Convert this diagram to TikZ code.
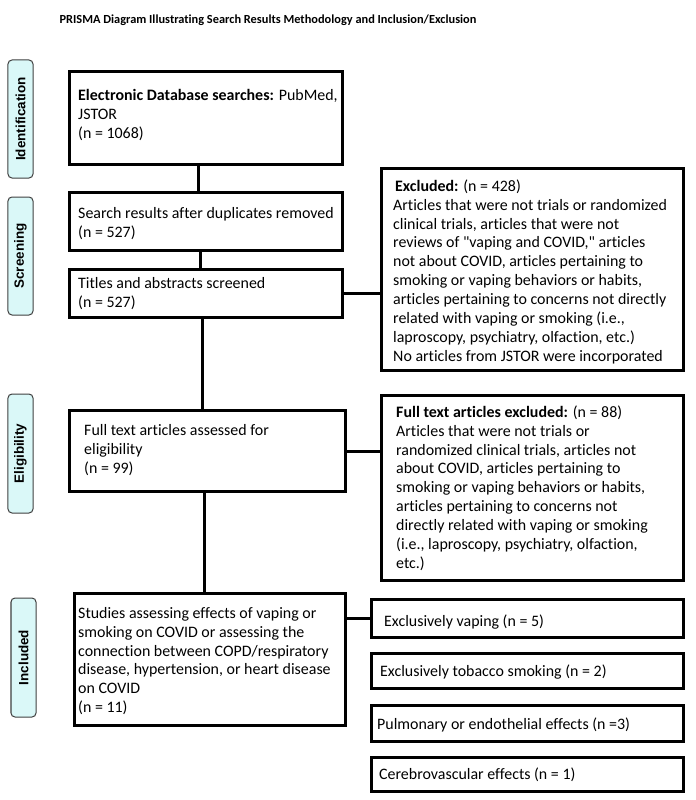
\documentclass[tikz,border=0pt]{standalone}
\usepackage{fontspec}
\setmainfont{Carlito}
\newfontfamily\calib{Carlito}[Ligatures=NoCommon]
\newfontfamily\sidefont{Liberation Sans}
\definecolor{sidefill}{RGB}{218,248,248}
\definecolor{sideline}{RGB}{64,64,64}
\begin{document}
\begin{tikzpicture}[x=1bp,y=-1bp,
  box/.style={draw, line width=3bp, rectangle, inner sep=0pt},
  side/.style={draw=sideline, fill=sidefill, rounded corners=4bp, line width=1bp, rotate=90, inner sep=0pt,
     font=\sidefont\bfseries\fontsize{13.5}{14}\selectfont, minimum height=25bp},
  txt/.style={anchor=north west, inner sep=0pt, align=left, font=\calib\fontsize{16}{19}\selectfont},
  conn/.style={line width=3bp}]
\fill[white] (0,0) rectangle (696,800);
\useasboundingbox (0,0) rectangle (696,800);

\node[font=\calib\bfseries\fontsize{12.4}{14}\selectfont] (title) at (268,20) {PRISMA Diagram Illustrating Search Results Methodology and Inclusion/Exclusion};

% sidebars
\node[side, minimum width=118bp] (sid) at (20.5,119) {Identification};
\node[side, minimum width=118bp] (sscr) at (20.5,256) {Screening};
\node[side, minimum width=119bp] (selig) at (20.5,453.5) {Eligibility};
\node[side, minimum width=119bp] (sinc) at (23.5,657.5) {Included};

% main boxes
\node[box, minimum width=273bp, minimum height=93bp] (B1) at (206,118) {};
\node[box, minimum width=273bp, minimum height=58bp] (B2) at (206,221.5) {};
\node[box, minimum width=273bp, minimum height=48bp] (B3) at (206,293.5) {};
\node[box, minimum width=276bp, minimum height=81bp] (B4) at (207.5,451) {};
\node[box, minimum width=271bp, minimum height=132bp] (B5) at (210,659.5) {};
\node[box, minimum width=302bp, minimum height=202bp] (E1) at (532.5,269.5) {};
\node[box, minimum width=302bp, minimum height=185bp] (E2) at (532.5,488) {};
\node[box, minimum width=312bp, minimum height=38bp] (R1) at (527.5,618.5) {};
\node[box, minimum width=312bp, minimum height=35bp] (R2) at (527.5,671) {};
\node[box, minimum width=312bp, minimum height=36bp] (R3) at (527.5,723.5) {};
\node[box, minimum width=312bp, minimum height=34bp] (R4) at (527.5,774.5) {};

% texts
\node[txt] (t1) at (78,87) {\rule{0pt}{13bp}\textbf{Electronic Database searches:} PubMed,\\JSTOR\\(n = 1068)};
\node[txt] (t2) at (78,205) {\rule{0pt}{13bp}Search results after duplicates removed\\(n = 527)};
\node[txt] (t3) at (78,275) {\rule{0pt}{13bp}Titles and abstracts screened\\(n = 527)};
\node[txt] (t4) at (84,422) {\rule{0pt}{13bp}Full text articles assessed for\\eligibility\\(n = 99)};
\node[txt] (t5) at (78,605) {\rule{0pt}{13bp}Studies assessing effects of vaping or\\smoking on COVID or assessing the\\connection between COPD/respiratory\\disease, hypertension, or heart disease\\on COVID\\(n = 11)};
\node[txt] (te1) at (393,178) {\rule{0pt}{13bp}\hspace{2bp}\textbf{Excluded:} (n = 428)\\Articles that were not trials or randomized\\clinical trials, articles that were not\\reviews of "vaping and COVID," articles\\not about COVID, articles pertaining to\\smoking or vaping behaviors or habits,\\articles pertaining to concerns not directly\\related with vaping or smoking (i.e.,\\laproscopy, psychiatry, olfaction, etc.)\\No articles from JSTOR were incorporated};
\node[txt] (te2) at (396,404) {\rule{0pt}{13bp}\textbf{Full text articles excluded:} (n = 88)\\Articles that were not trials or\\randomized clinical trials, articles not\\about COVID, articles pertaining to\\smoking or vaping behaviors or habits,\\articles pertaining to concerns not\\directly related with vaping or smoking\\(i.e., laproscopy, psychiatry, olfaction,\\etc.)};
\node[txt] (tr1) at (384,613) {\rule{0pt}{13bp}Exclusively vaping (n = 5)};
\node[txt] (tr2) at (380,663) {\rule{0pt}{13bp}Exclusively tobacco smoking (n = 2)};
\node[txt] (tr3) at (377,716) {\rule{0pt}{13bp}Pulmonary or endothelial effects (n =3)};
\node[txt] (tr4) at (379,766) {\rule{0pt}{13bp}Cerebrovascular effects (n = 1)};

% connectors
\draw[conn] ([xshift=-8bp]B1.south) -- ([xshift=-8bp]B1.south |- B2.north);
\draw[conn] ([xshift=-6bp]B2.south) -- ([xshift=-6bp]B2.south |- B3.north);
\draw[conn] ([xshift=-4bp]B3.south) -- ([xshift=-4bp]B3.south |- B4.north);
\draw[conn] ([xshift=-3.5bp]B4.south) -- ([xshift=-3.5bp]B4.south |- B5.north);
\draw[conn] (B3.east) -- (B3.east -| E1.west);
\draw[conn] (B4.east) -- (B4.east -| E2.west);
\draw[conn] (R1.west -| B5.east) -- (R1.west);
\end{tikzpicture}
\end{document}
